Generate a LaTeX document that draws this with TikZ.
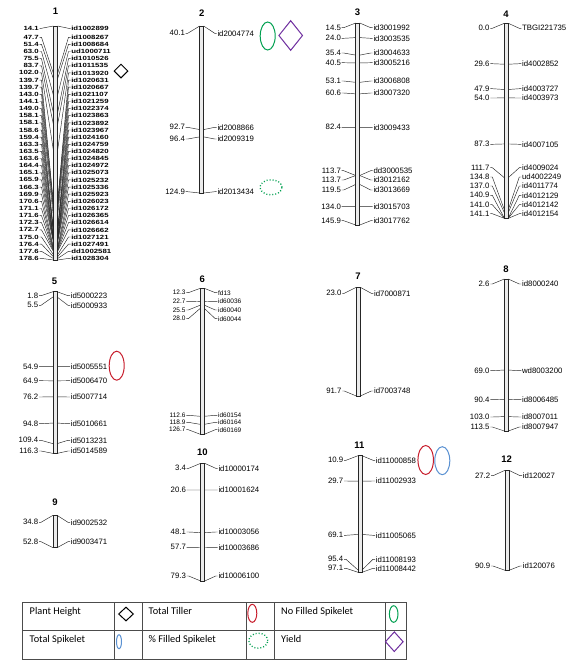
\documentclass[tikz,border=0pt]{standalone}
\usepackage{fontspec}
\usepackage{tikz}
\usetikzlibrary{shapes.geometric,calc}
\newfontfamily\chrfont{Liberation Sans}
\newfontfamily\chrwide[FakeStretch=1.3]{Liberation Sans}
\newfontfamily\legfont{Carlito}
\definecolor{qtlred}{RGB}{200,30,45}
\definecolor{qtlgreen}{RGB}{0,160,80}
\definecolor{qtlblue}{RGB}{90,145,210}
\definecolor{qtlpurple}{RGB}{112,48,160}

% one chromosome: name, x, top, bottom, first cM, last cM, label style, cM/label y/marker
\newcommand{\linkmap}[8]{%
  \draw[chrbar] (#2-2,#3) rectangle (#2+2,#4);
  \foreach \pos/\ly/\mk [count=\i] in {#8} {
    \pgfmathsetmacro{\bary}{#3+(\pos-#5)/(#6-#5)*(#4-#3)}
    \coordinate (c#1bl\i) at (#2-2,\bary);
    \coordinate (c#1br\i) at (#2+2,\bary);
    \node[leftlab, #7] (c#1l\i) at (#2-16,\ly) {\pos};
    \node[rightlab, #7] (c#1r\i) at (#2+15,\ly) {\mk};
    \path[draw, link] (c#1l\i.east) -- ++(2,0) -- (c#1bl\i);
    \path[draw, link] (c#1br\i) -- ($(c#1r\i.west)+(-2,0)$) -- (c#1r\i.west);
  }
}

\begin{document}
\begin{tikzpicture}[x=1pt, y=-1pt,
        chrbar/.style={draw=black!85, fill=black!8, line width=0.5pt},
        link/.style={draw=black!85, line width=0.45pt},
        leftlab/.style={anchor=east, inner sep=0.6pt},
        rightlab/.style={anchor=west, inner sep=0.6pt},
        lab/.style={font=\chrfont\fontsize{7.8}{8}\selectfont},
        labsmall/.style={font=\chrfont\fontsize{6.5}{7}\selectfont},
        labwide/.style={font=\chrwide\bfseries\fontsize{6}{6.5}\selectfont},
        chrtitle/.style={font=\chrfont\bfseries\fontsize{9.5}{10}\selectfont, inner sep=0pt},
        legtext/.style={font=\legfont\fontsize{10.3}{11}\selectfont, anchor=base west, inner sep=0pt},
        legline/.style={draw=black!70, line width=0.8pt},
        qtloval/.style={ellipse, draw, line width=1pt, inner sep=0pt},
        qtldiamond/.style={diamond, draw, line width=1pt, inner sep=0pt}]

        \useasboundingbox[fill=white] (0,0) rectangle (581,670);

        % chromosome titles
        \node[chrtitle] (t1) at (55.5,11) {1};
        \node[chrtitle] (t2) at (201.7,13) {2};
        \node[chrtitle] (t3) at (357.5,12.7) {3};
        \node[chrtitle] (t4) at (506,14) {4};
        \node[chrtitle] (t5) at (54.5,281) {5};
        \node[chrtitle] (t6) at (202.3,279.3) {6};
        \node[chrtitle] (t7) at (358,276.7) {7};
        \node[chrtitle] (t8) at (506,269.3) {8};
        \node[chrtitle] (t9) at (55,502.3) {9};
        \node[chrtitle] (t10) at (202.3,452.7) {10};
        \node[chrtitle] (t11) at (359.3,445.7) {11};
        \node[chrtitle] (t12) at (506.7,459.3) {12};

        % linkage groups
        \linkmap{1}{55.5}{26}{260}{14.1}{178.6}{labwide}{14.1/28.3/id1002899, 47.7/37.3/id1008267,
          51.4/44.4/id1008684, 63.0/51.5/ud1000711, 75.5/58.7/id1010526, 83.7/65.8/id1011535,
          102.0/72.9/id1013920, 139.7/80.1/id1020631, 139.7/87.2/id1020667, 143.0/94.3/id1021107,
          144.1/101.5/id1021259, 149.0/108.6/id1022374, 158.1/115.7/id1023863, 158.1/122.9/id1023892,
          158.6/130.0/id1023967, 159.4/137.1/id1024160, 163.3/144.3/id1024759, 163.5/151.4/id1024820,
          163.6/158.5/id1024845, 164.4/165.7/id1024972, 165.1/172.8/id1025073, 165.9/179.9/id1025232,
          166.3/187.1/id1025336, 169.9/194.2/id1025923, 170.6/201.3/id1026023, 171.1/208.5/id1026172,
          171.6/215.6/id1026365, 172.3/222.7/id1026614, 172.7/229.9/id1026662, 175.0/237.0/id1027121,
          176.4/244.1/id1027491, 177.6/251.3/dd1002581, 178.6/258.4/id1028304}
        \linkmap{2}{201.7}{26}{193}{40.1}{124.9}{lab}{40.1/33.3/id2004774, 92.7/127.3/id2008866,
          96.4/139/id2009319, 124.9/191.7/id2013434}
        \linkmap{3}{357.7}{23}{225}{14.5}{145.9}{lab}{14.5/27.7/id3001992, 24.0/38.3/id3003535,
          35.4/53/id3004633, 40.5/62.7/id3005216, 53.1/81/id3006808, 60.6/93/id3007320,
          82.4/127.3/id3009433, 113.7/170.7/dd3000535, 113.7/180/id3012162, 119.5/190/id3013669,
          134.0/206.7/id3015703, 145.9/220.7/id3017762}
        \linkmap{4}{506.3}{23.3}{218.3}{0.0}{141.1}{lab}{0.0/28.3/TBGI221735, 29.6/63.7/id4002852,
          47.9/88.7/id4003727, 54.0/98/id4003973, 87.3/144.3/id4007105, 111.7/167.7/id4009024,
          134.8/177/ud4002249, 137.0/186/id4011774, 140.9/195.3/id4012129, 141.0/204.7/id4012142,
          141.1/213.7/id4012154}
        \linkmap{5}{55}{291.7}{453.4}{1.8}{116.3}{lab}{1.8/295.7/id5000223, 5.5/305.3/id5000933,
          54.9/366.7/id5005551, 64.9/380.7/id5006470, 76.2/397/id5007714, 94.8/423.7/id5010661,
          109.4/440.3/id5013231, 116.3/451/id5014589}
        \linkmap{6}{202.3}{288.3}{434.3}{12.3}{126.7}{labsmall}{12.3/292.7/fd13, 22.7/301.3/id60036,
          25.5/310/id60040, 28.0/318.7/id60044, 112.6/415.3/id60154, 118.9/422.3/id60164,
          126.7/429.7/id60169}
        \linkmap{7}{358.3}{287.3}{396}{23.0}{91.7}{lab}{23.0/293.3/id7000871, 91.7/391/id7003748}
        \linkmap{8}{506.3}{279}{431}{2.6}{113.5}{lab}{2.6/284/id8000240, 69.0/370.7/wd8003200,
          90.4/399.7/id8006485, 103.0/417/id8007011, 113.5/427/id8007947}
        \linkmap{9}{55}{515.3}{547.7}{34.8}{52.8}{lab}{34.8/522.3/id9002532, 52.8/541.7/id9003471}
        \linkmap{10}{202.7}{463.3}{581}{3.4}{79.3}{lab}{3.4/468.3/id10000174, 20.6/490/id10001624,
          48.1/532/id10003056, 57.7/547.3/id10003686, 79.3/576/id10006100}
        \linkmap{11}{360}{455.7}{572.3}{10.9}{97.1}{lab}{10.9/460.3/id11000858, 29.7/481/id11002933,
          69.1/535.3/id11005065, 95.4/559.3/id11008193, 97.1/568.3/id11008442}
        \linkmap{12}{507}{470.3}{570.3}{27.2}{90.9}{lab}{27.2/475.7/id120027, 90.9/566/id120076}

        % QTL marks
        \node[qtldiamond, minimum width=14pt, minimum height=14pt] (ph1) at (121,71) {};
        \node[qtloval, draw=qtlgreen, minimum width=15pt, minimum height=28pt] (nf2) at (267.7,36) {};
        \node[qtldiamond, draw=qtlpurple, minimum width=24pt, minimum height=30pt] (yd2) at (290.7,35.5) {};
        \node[qtloval, draw=qtlgreen, dotted, line width=1.3pt, minimum width=22pt, minimum height=15pt] (pf2) at (271,187.3) {};
        \node[qtloval, draw=qtlred, minimum width=15pt, minimum height=29pt] (tt5) at (116.7,365.7) {};
        \node[qtloval, draw=qtlred, minimum width=15.5pt, minimum height=29pt] (tt11) at (425.7,460) {};
        \node[qtloval, draw=qtlblue, minimum width=15pt, minimum height=28pt] (ts11) at (442.3,460.7) {};

        % legend
        \draw[legline] (22.7,602.7) rectangle (406,659.3);
        \draw[legline] (22.7,630.7) -- (406,630.7);
        \foreach \lx in {114,142.3,246.7,274.3,385.7}
          \draw[legline] (\lx,602.7) -- (\lx,659.3);
        \node[legtext] (lph) at (29.5,614) {Plant Height};
        \node[legtext] (ltt) at (148.5,614) {Total Tiller};
        \node[legtext] (lnf) at (281,614) {No Filled Spikelet};
        \node[legtext] (lts) at (29.5,642) {Total Spikelet};
        \node[legtext] (lpf) at (148.5,642) {\% Filled Spikelet};
        \node[legtext] (lyd) at (281,642) {Yield};
        \node[qtldiamond, minimum width=15pt, minimum height=14pt] (sph) at (126,614) {};
        \node[qtloval, draw=qtlred, minimum width=9pt, minimum height=18pt] (stt) at (252.3,613.3) {};
        \node[qtloval, draw=qtlgreen, minimum width=8.6pt, minimum height=16.6pt] (snf) at (393.7,614) {};
        \node[qtloval, draw=qtlblue, minimum width=5pt, minimum height=14pt] (sts) at (119,641.7) {};
        \node[qtloval, draw=qtlgreen, dotted, line width=1.3pt, minimum width=19pt, minimum height=15pt] (spf) at (258.3,640.7) {};
        \node[qtldiamond, draw=qtlpurple, minimum width=18pt, minimum height=20pt] (syd) at (394.3,641.7) {};
    \end{tikzpicture}
\end{document}
